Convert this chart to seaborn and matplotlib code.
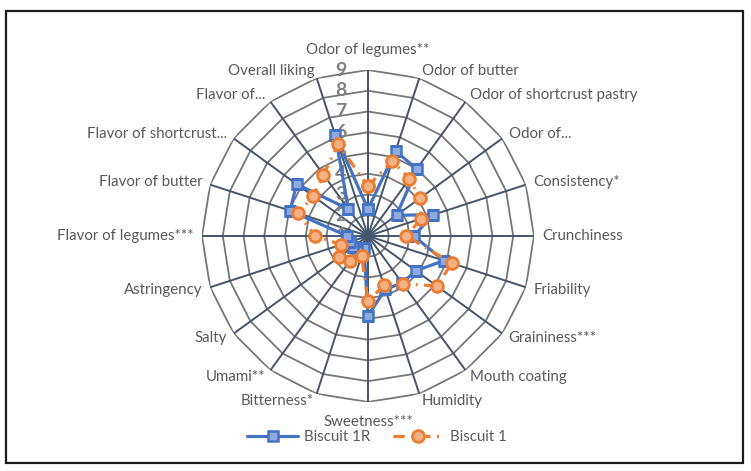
import matplotlib
matplotlib.use("Agg")
import matplotlib.pyplot as plt
import numpy as np
import seaborn as sns
from matplotlib.patches import Rectangle

sns.set_theme(style="white")
plt.rcParams["font.family"] = ["Lato", "DejaVu Sans"]

attributes = [
    "Odor of legumes**", "Odor of butter", "Odor of shortcrust pastry", "Odor of...",
    "Consistency*", "Crunchiness", "Friability", "Graininess***", "Mouth coating",
    "Humidity", "Sweetness***", "Bitterness*", "Umami**", "Salty", "Astringency",
    "Flavor of legumes***", "Flavor of butter", "Flavor of shortcrust...",
    "Flavor of...", "Overall liking",
]
biscuit_1r = [2.3, 5.3, 5.0, 2.7, 4.3, 3.2, 4.85, 3.85, 3.8, 3.7,
              4.85, 1.6, 1.9, 1.9, 1.9, 2.0, 4.95, 5.25, 2.6, 6.1]
biscuit_1 = [3.4, 4.8, 4.4, 4.1, 3.7, 2.85, 5.25, 5.1, 3.85, 3.5,
             4.15, 2.0, 2.5, 2.7, 2.35, 3.55, 4.55, 4.25, 4.65, 5.65]
levels = [1, 2, 3, 4, 5, 6, 7, 8, 9]

BLUE = "#4472C4"
ORANGE = "#ED7D31"
SPOKE = "#44546A"
RING = "#767676"
TEXT = "#595959"

n = len(attributes)
theta = np.linspace(0, 2 * np.pi, n, endpoint=False)
theta_closed = np.append(theta, theta[0])

fig = plt.figure(figsize=(7.51, 4.71), dpi=100)
ax = fig.add_axes([0.269, 0.1465, 0.442, 0.705], projection="polar")
ax.set_theta_zero_location("N")
ax.set_theta_direction(-1)
ax.set_ylim(levels[0], levels[-1])
ax.grid(False)
ax.spines["polar"].set_visible(False)
ax.set_xticks([])
ax.set_yticks([])
ax.patch.set_alpha(0)

# polygon rings and spokes
for lv in levels[1:]:
    ax.plot(theta_closed, [lv] * (n + 1), color=RING, lw=1.3, zorder=1)
for t in theta:
    ax.plot([t, t], [levels[0], levels[-1]], color=SPOKE, lw=1.4, zorder=2)

# value labels along the top spoke
for lv in levels:
    ax.annotate(str(lv), xy=(0, lv), xytext=(-27, 0), textcoords="offset pixels",
                ha="center", va="center", fontsize=14, fontweight="bold",
                color="#808080", zorder=3)

# category labels
for t, name in zip(theta, attributes):
    s, c = np.sin(t), np.cos(t)
    d = 20 if abs(c) > 0.97 else 8
    ha = "left" if s > 0.1 else ("right" if s < -0.1 else "center")
    ax.annotate(name, xy=(t, levels[-1]), xytext=(d * s, d * c),
                textcoords="offset pixels", ha=ha, va="center",
                fontsize=10.8, color=TEXT, annotation_clip=False)

ax.plot(theta_closed, biscuit_1r + biscuit_1r[:1], color=BLUE, lw=2.3,
        marker="s", ms=7.5, mfc="#8FAADC", mec=BLUE, mew=1.8,
        label="Biscuit 1R", zorder=5)
ax.plot(theta_closed, biscuit_1 + biscuit_1[:1], color=ORANGE, lw=2.3,
        dashes=(3.5, 2, 0.6, 2), marker="o", ms=8.5, mfc="#F4B183", mec=ORANGE,
        mew=2, label="Biscuit 1", zorder=6)

leg = fig.legend(loc="center", bbox_to_anchor=(0.502, 0.072), ncol=2,
                 frameon=False, fontsize=10.8, handlelength=3.4,
                 handletextpad=0.4, columnspacing=1.5)
for txt in leg.get_texts():
    txt.set_color(TEXT)

# outer frame
fig.patches.append(Rectangle((6 / 751, 1 - 463 / 471), 737 / 751, 452 / 471,
                             transform=fig.transFigure, fill=False,
                             edgecolor="#1a1a1a", lw=1.6))

fig.savefig("out.png", dpi=100)
